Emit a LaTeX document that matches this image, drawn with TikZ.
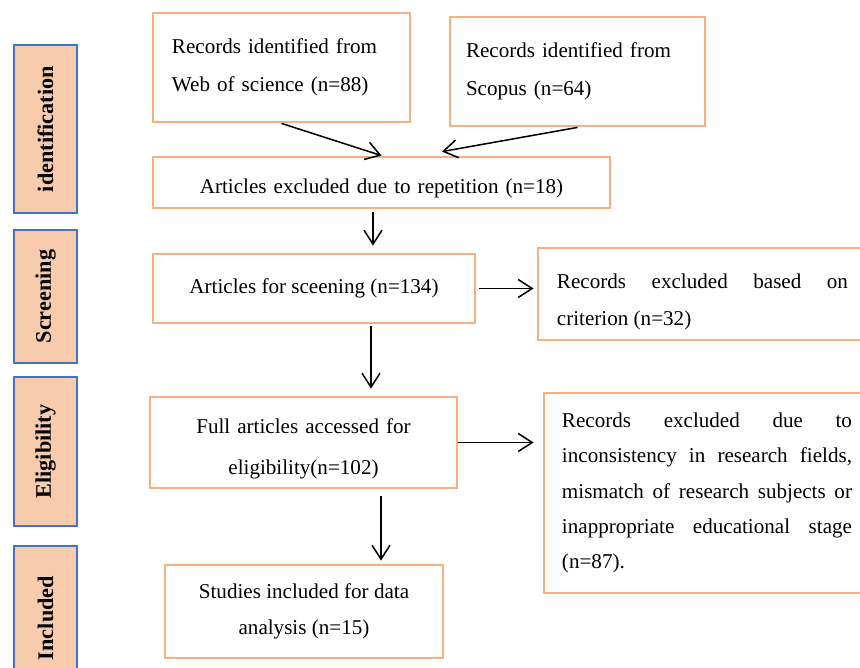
\documentclass[tikz,border=0pt]{standalone}
\usepackage{fontspec}
\setmainfont{Liberation Serif}
\usepackage{tikz}
\usetikzlibrary{arrows.meta,positioning,calc}

\definecolor{boxorange}{RGB}{244,177,131}
\definecolor{stagefill}{RGB}{248,203,173}
\definecolor{stageblue}{RGB}{68,114,196}

\tikzset{
    recbox/.style={draw=boxorange, line width=2.4pt, inner sep=0pt,
        font=\fontsize{18}{32}\selectfont},
    stagebox/.style={draw=stageblue, fill=stagefill, line width=1.6pt, rotate=90,
        inner sep=0pt, minimum height=1.89cm, font=\fontsize{19}{22}\selectfont\bfseries},
    flow/.style={->, line width=1.3pt}
}

\begin{document}
\begin{tikzpicture}[x=0.03cm, y=-0.03cm, >={Straight Barb[length=0.42cm,width=0.54cm]}]
    \useasboundingbox (0,0) rectangle (860,668);
    \clip (0,0) rectangle (860,668);

    % ---------------- Stages ----------------
    \node[stagebox, minimum width=5.04cm] (sident) at (45.5,129) {identification};
    \node[stagebox, minimum width=3.99cm] (sscreen) at (45.5,296.5) {Screening};
    \node[stagebox, minimum width=4.47cm] (selig) at (45.5,451.5) {Eligibility};
    \node[stagebox, minimum width=4.32cm] (sincl) at (45.5,618) {Included};

    % ---------------- Identification ----------------
    \node[recbox, minimum width=7.71cm, minimum height=3.27cm, text width=6.57cm, align=left]
        (wos) at (281.5,67.5) {Records identified from\\Web of science (n=88)};
    \node[recbox, minimum width=7.65cm, minimum height=3.27cm, text width=6.69cm, align=left]
        (scopus) at (577.5,71.5) {Records identified from\\Scopus (n=64)};
    \node[recbox, minimum width=13.71cm, minimum height=1.53cm, text width=13cm, align=center,
        text height=22.7pt, text depth=3.9pt]
        (dup) at (381.5,182.5) {Articles excluded due to repetition (n=18)};

    % ---------------- Screening ----------------
    \node[recbox, minimum width=9.66cm, minimum height=2.07cm]
        (scr) at (314,288.5) {Articles for sceening (n=134)};
    \node[recbox, minimum width=9.87cm, minimum height=2.76cm, text width=8.73cm, align=justify,
        text height=26pt, text depth=36pt]
        (crit) at (702.5,294) {Records excluded based on\linebreak criterion (n=32)};

    % ---------------- Eligibility ----------------
    \node[recbox, minimum width=9.21cm, minimum height=2.73cm, text width=8.5cm, align=center,
        font=\fontsize{18}{35}\selectfont, text height=24.3pt, text depth=38.9pt]
        (elig) at (303.5,442.5) {Full articles accessed for\\eligibility(n=102)};
    \node[recbox, minimum width=9.78cm, minimum height=6cm, text width=8.7cm, align=justify,
        font=\fontsize{18}{30}\selectfont]
        (excl) at (707,493) {Records excluded due to\linebreak inconsistency in research fields,\linebreak
        mismatch of research subjects or\linebreak inappropriate educational stage\linebreak (n=87).};

    % ---------------- Included ----------------
    \node[recbox, minimum width=8.34cm, minimum height=2.79cm, align=center,
        font=\fontsize{18}{31}\selectfont]
        (stud) at (304,611.5) {Studies included for data\\analysis (n=15)};

    % ---------------- Arrows ----------------
    \draw[flow] (wos.south) -- (dup.north);
    \draw[flow] (scopus.south) -- ($(dup.north)+(60.5,-4)$);
    \draw[flow] ($(dup.south)+(-8.5,3)$) -- ($(scr.north)+(59,-7)$);
    \draw[flow] ($(scr.east)+(3,0)$) -- ([xshift=-0.09cm]crit.west |- scr.east);
    \draw[flow] ($(scr.south)+(57,2)$) -- ($(elig.north)+(67.5,-7)$);
    \draw[flow] (elig.east) -- ([xshift=-0.27cm]excl.west |- elig.east);
    \draw[flow] ($(elig.south)+(77.5,7)$) -- ($(stud.north)+(77,-3)$);

\end{tikzpicture}
\end{document}
